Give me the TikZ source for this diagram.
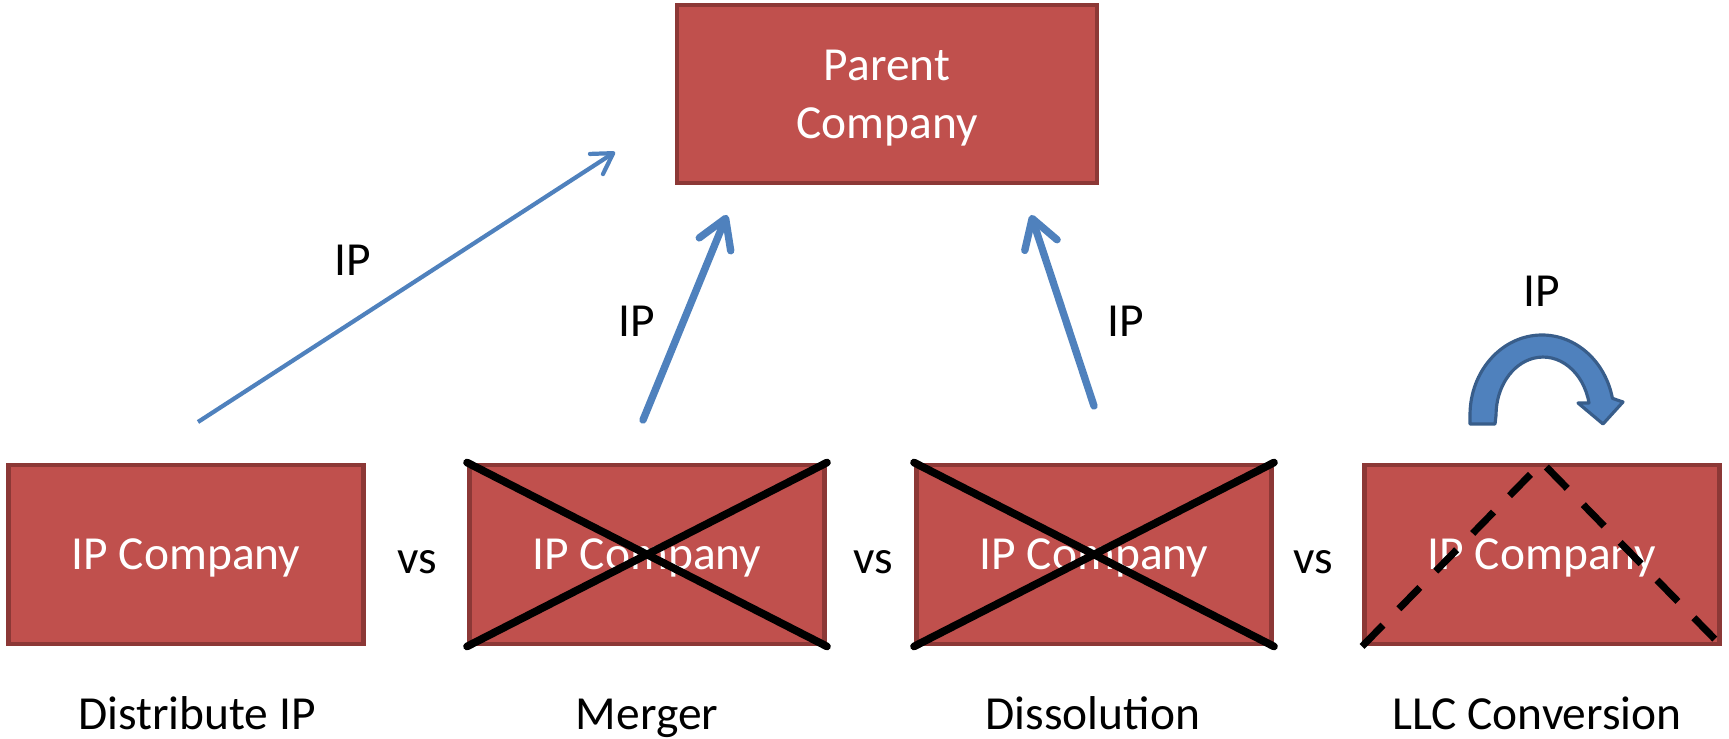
\documentclass[tikz,border=0pt]{standalone}
\usepackage{fontspec}
\setmainfont{Carlito}
\usetikzlibrary{arrows.meta}
\definecolor{boxRed}{HTML}{C0504D}
\definecolor{boxEdge}{HTML}{8C3836}
\definecolor{arrowBlue}{HTML}{4F81BD}
\definecolor{arrowEdge}{HTML}{385D8A}

\begin{document}
\begin{tikzpicture}[ipBox/.style={draw=boxEdge, line width=1.4pt, fill=boxRed, text=white, minimum width=3.55cm, minimum height=1.79cm, align=center, text depth=0pt, font=\fontsize{13.5}{16.5}\selectfont},
    ipText/.style={font=\fontsize{13.5}{16.5}\selectfont},
    ipArrow/.style={arrowBlue, line width=2.1pt, line cap=round, -{Straight Barb[length=2.8mm, width=3.4mm, round]}},
    ipThin/.style={arrowBlue, line width=1.2pt, -{Straight Barb[length=2mm, width=2.4mm, round]}},
    ipCross/.style={black, line width=2.2pt, line cap=round},
    ipDash/.style={black, line width=2pt, dash pattern=on 8.5pt off 6.5pt}]

    \useasboundingbox (0,0) rectangle (17.29,7.39);

    % Parent
    \node[ipBox, minimum width=4.2cm, minimum height=1.78cm] (parent) at (8.87, 6.45) {Parent\\Company};

    % IP companies
    \node[ipBox] (ipDist) at (1.86, 1.845) {IP Company};
    \node[ipBox] (ipMerge) at (6.47, 1.845) {IP Company};
    \node[ipBox] (ipDiss) at (10.94, 1.845) {IP Company};
    \node[ipBox] (ipLLC) at (15.42, 1.845) {IP Company};

    \node[ipText] (vsA) at (4.17, 1.77) {vs};
    \node[ipText] (vsB) at (8.73, 1.77) {vs};
    \node[ipText] (vsC) at (13.13, 1.77) {vs};

    \node[ipText, anchor=base] (capDist) at (1.97, 0.09) {Distribute IP};
    \node[ipText, anchor=base] (capMerge) at (6.47, 0.09) {Merger};
    \node[ipText, anchor=base] (capDiss) at (10.93, 0.09) {Dissolution};
    \node[ipText, anchor=base] (capLLC) at (15.37, 0.09) {LLC Conversion};

    % IP labels
    \node[ipText] (ipDistLbl) at (3.53, 4.79) {IP};
    \node[ipText] (ipMergeLbl) at (6.37, 4.18) {IP};
    \node[ipText] (ipDissLbl) at (11.26, 4.18) {IP};
    \node[ipText] (ipLLCLbl) at (15.42, 4.48) {IP};

    \coordinate (distTail) at (1.98, 3.17);
    \coordinate (distHead) at (6.15, 5.87);
    \coordinate (mergeTail) at (6.43, 3.19);
    \coordinate (mergeHead) at (7.27, 5.24);
    \coordinate (dissTail) at (10.94, 3.33);
    \coordinate (dissHead) at (10.31, 5.24);

    \draw[ipThin] (distTail) -- (distHead);
    \draw[ipArrow] (mergeTail) -- (mergeHead);
    \draw[ipArrow] (dissTail) -- (dissHead);

    % crossed out
    \draw[ipCross] (ipMerge.north west) -- (ipMerge.south east);
    \draw[ipCross] (ipMerge.south west) -- (ipMerge.north east);
    \draw[ipCross] (ipDiss.north west) -- (ipDiss.south east);
    \draw[ipCross] (ipDiss.south west) -- (ipDiss.north east);
    \draw[ipDash] (ipLLC.south west) -- (ipLLC.north) -- (ipLLC.south east);

    % turn arrow
    \draw[draw=arrowEdge, line width=0.9pt, fill=arrowBlue, line join=round]
        (14.70, 3.15) -- (14.70, 3.24)
        arc[start angle=180, end angle=12, x radius=0.72, y radius=0.80]
        -- (16.23, 3.37) -- (16.03, 3.15) -- (15.78, 3.36) -- (15.89, 3.36)
        arc[start angle=12, end angle=180, x radius=0.47, y radius=0.58]
        -- (14.95, 3.15) -- cycle;
\end{tikzpicture}
\end{document}
